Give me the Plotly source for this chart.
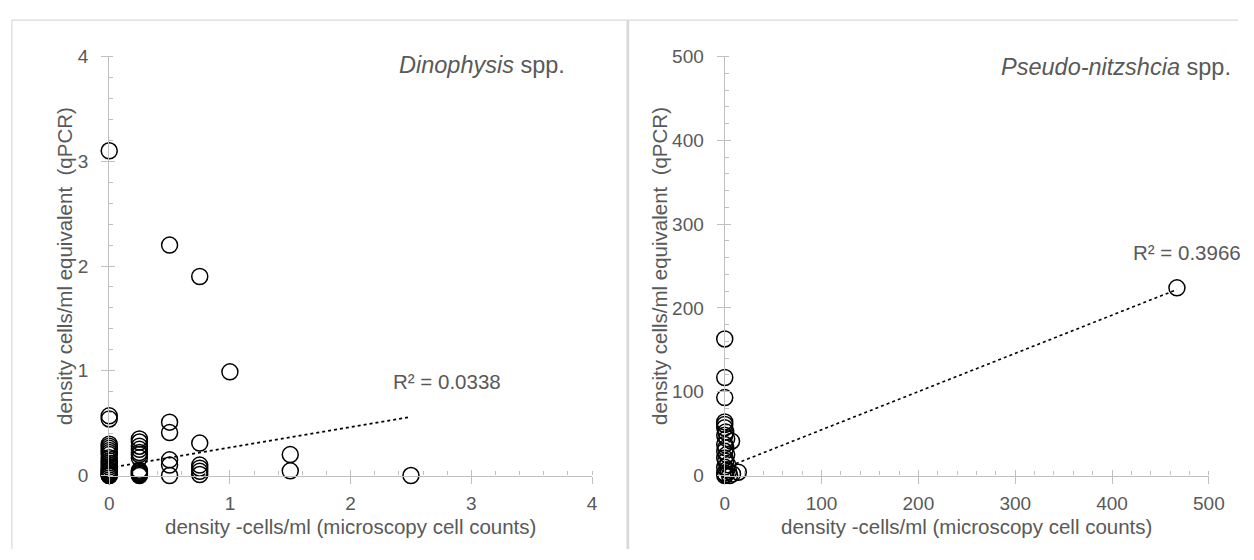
import plotly.graph_objects as go

# ---- data -------------------------------------------------------------
# Dinophysis spp.: microscopy counts vs qPCR cell equivalents (cells/ml)
dino_micro = [0, 0, 0, 0, 0, 0, 0, 0, 0, 0, 0, 0, 0, 0, 0, 0, 0, 0, 0, 0, 0, 0,
              0.25, 0.25, 0.25, 0.25, 0.25, 0.25, 0.25, 0.25, 0.25, 0.25, 0.25, 0.25, 0.25,
              0.5, 0.5, 0.5, 0.5, 0.5, 0.5,
              0.75, 0.75, 0.75, 0.75, 0.75, 0.75,
              1.0,
              1.5, 1.5,
              2.5]
dino_qpcr = [3.1, 0.57, 0.54, 0.3, 0.28, 0.26, 0.24, 0.22, 0.2, 0.17, 0.14, 0.12,
             0.1, 0.08, 0.06, 0.05, 0.04, 0.03, 0.02, 0.01, 0.0, 0.0,
             0.35, 0.32, 0.28, 0.25, 0.22, 0.2, 0.17, 0.05, 0.04, 0.03, 0.02, 0.01, 0.0,
             2.2, 0.51, 0.41, 0.15, 0.1, 0.0,
             1.9, 0.31, 0.1, 0.07, 0.04, 0.01,
             0.99,
             0.2, 0.045,
             0.0]
dino_trend_slope = 0.195
dino_trend_intercept = 0.073
dino_r2 = "R² = 0.0338"

# Pseudo-nitzschia spp.
pn_micro = [0, 0, 0, 0, 0, 0, 1, 0, 2, 7, 0, 1, 0, 2, 0, 1, 3, 0, 2, 4, 0, 14, 8, 1, 0, 5, 467]
pn_qpcr = [163, 117, 93, 64, 61, 57, 52, 48, 44, 41, 37, 33, 29, 25, 21, 17, 13, 10, 7, 5,
           3, 4, 2, 1, 0, 0, 224]
pn_trend_slope = 0.456
pn_trend_intercept = 9.0
pn_r2 = "R² = 0.3966"

x_title = "density -cells/ml (microscopy cell counts)"
y_title = "density cells/ml equivalent  (qPCR)"

# ---- layout helpers ---------------------------------------------------
W, H = 1254, 560
FONT = "Liberation Sans, Arial, sans-serif"
GREY_TXT = "#595959"
AXIS_C = "#bfbfbf"
BORDER_C = "#d9d9d9"


def xp(px):
    return px / W


def yp(py):
    return 1 - py / H


Y_DOM = [yp(483.7), yp(48.3)]
LEFT_DOM = [xp(106), xp(597)]
RIGHT_DOM = [xp(732), xp(1224.4)]

fig = go.Figure()

marker = dict(symbol="circle-open", size=16, color="black", line=dict(width=1.5, color="black"))


def trend(xs, slope, intercept):
    x0, x1 = min(xs), max(xs)
    return [x0, x1], [intercept + slope * x0, intercept + slope * x1]


# left panel
tx, ty = trend(dino_micro, dino_trend_slope, dino_trend_intercept)
fig.add_trace(go.Scatter(x=tx, y=ty, mode="lines", xaxis="x", yaxis="y",
                         line=dict(color="black", width=1.6, dash="dot"),
                         hoverinfo="skip", showlegend=False, cliponaxis=False))
fig.add_trace(go.Scatter(x=dino_micro, y=dino_qpcr, mode="markers", xaxis="x", yaxis="y",
                         marker=marker, showlegend=False, cliponaxis=False))

# right panel
tx, ty = trend(pn_micro, pn_trend_slope, pn_trend_intercept)
fig.add_trace(go.Scatter(x=tx, y=ty, mode="lines", xaxis="x2", yaxis="y2",
                         line=dict(color="black", width=1.6, dash="dot"),
                         hoverinfo="skip", showlegend=False, cliponaxis=False))
fig.add_trace(go.Scatter(x=pn_micro, y=pn_qpcr, mode="markers", xaxis="x2", yaxis="y2",
                         marker=marker, showlegend=False, cliponaxis=False))

# empty traces so the overlay tick axes are drawn
for xa, ya in (("x3", "y3"), ("x4", "y4")):
    fig.add_trace(go.Scatter(x=[None], y=[None], xaxis=xa, yaxis=ya, mode="markers",
                             showlegend=False, hoverinfo="skip"))

tickfont = dict(family=FONT, size=19, color=GREY_TXT)


def main_axis(dom, rng, dtick, minor_dtick, anchor, is_y):
    ax = dict(domain=dom, range=rng, anchor=anchor, showline=True, linecolor=AXIS_C,
              linewidth=1.3, showgrid=False, zeroline=False, ticks="outside",
              ticklen=7, tickwidth=1.3, tickcolor=AXIS_C, dtick=dtick, tick0=0,
              tickfont=tickfont, fixedrange=True,
              minor=dict(dtick=minor_dtick, tick0=0, ticks="inside", ticklen=4,
                         tickwidth=1, tickcolor=AXIS_C, showgrid=False))
    ax["ticklabelstandoff"] = 9 if is_y else 3
    return ax


def inner_axis(dom, rng, dtick, anchor, overlay):
    return dict(domain=dom, range=rng, anchor=anchor, overlaying=overlay, showline=False,
                showgrid=False, zeroline=False, ticks="inside", ticklen=6, tickwidth=1.3,
                tickcolor=AXIS_C, dtick=dtick, tick0=0, showticklabels=False,
                fixedrange=True)


fig.update_layout(
    width=W, height=H, margin=dict(l=0, r=0, t=0, b=0),
    paper_bgcolor="white", plot_bgcolor="rgba(0,0,0,0)",
    xaxis=main_axis(LEFT_DOM, [0, 4], 1, 0.2, "y", False),
    yaxis=main_axis(Y_DOM, [0, 4], 1, 0.2, "x", True),
    xaxis2=main_axis(RIGHT_DOM, [0, 500], 100, 20, "y2", False),
    yaxis2=main_axis(Y_DOM, [0, 500], 100, 20, "x2", True),
    xaxis3=inner_axis(LEFT_DOM, [0, 4], 1, "y3", "x"),
    yaxis3=inner_axis(Y_DOM, [0, 4], 1, "x3", "y"),
    xaxis4=inner_axis(RIGHT_DOM, [0, 500], 100, "y4", "x2"),
    yaxis4=inner_axis(Y_DOM, [0, 500], 100, "x4", "y2"),
    hovermode="closest",
)

# panel frames
line_kw = dict(color=BORDER_C, width=1.2)
fig.add_shape(type="line", xref="paper", yref="paper", x0=xp(7), x1=1, y0=yp(10.5), y1=yp(10.5), line=line_kw)
fig.add_shape(type="line", xref="paper", yref="paper", x0=xp(7), x1=xp(7), y0=yp(10.5), y1=0, line=line_kw)
fig.add_shape(type="line", xref="paper", yref="paper", x0=xp(633.4), x1=xp(633.4), y0=yp(10.5), y1=0,
              line=dict(color=BORDER_C, width=2.8))

ann_font = dict(family=FONT, size=20.5, color=GREY_TXT)
title_font = dict(family=FONT, size=23.5, color=GREY_TXT)
annotations = [
    # panel titles
    dict(text="<i>Dinophysis</i> spp.", x=xp(572), y=yp(57), xanchor="right", yanchor="middle",
         font=title_font),
    dict(text="<i>Pseudo-nitzshcia</i> spp.", x=xp(1249), y=yp(59), xanchor="right", yanchor="middle",
         font=title_font),
    # R² labels
    dict(text=dino_r2, x=xp(393), y=yp(386), xanchor="left", yanchor="middle", font=ann_font),
    dict(text=pn_r2, x=xp(1145), y=yp(252), xanchor="left", yanchor="middle", font=ann_font),
    # axis titles
    dict(text=x_title, x=(LEFT_DOM[0] + LEFT_DOM[1]) / 2, y=yp(537), xanchor="center", yanchor="middle", font=ann_font),
    dict(text=x_title, x=(RIGHT_DOM[0] + RIGHT_DOM[1]) / 2, y=yp(537), xanchor="center", yanchor="middle", font=ann_font),
    dict(text=y_title, x=xp(60), y=(Y_DOM[0] + Y_DOM[1]) / 2, textangle=-90, xanchor="center", yanchor="middle", font=ann_font),
    dict(text=y_title, x=xp(665), y=(Y_DOM[0] + Y_DOM[1]) / 2, textangle=-90, xanchor="center", yanchor="middle", font=ann_font),
]
for a in annotations:
    a.update(xref="paper", yref="paper", showarrow=False)
fig.update_layout(annotations=annotations)

fig.write_html("out.html")
